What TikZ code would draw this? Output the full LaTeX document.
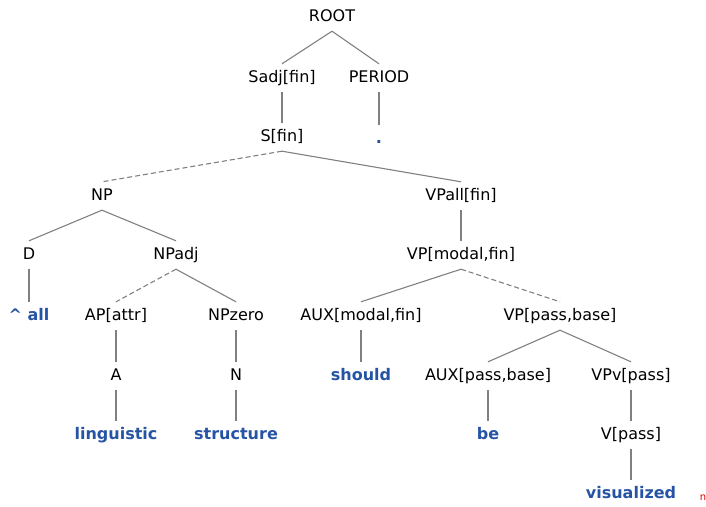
\documentclass[tikz,border=0pt]{standalone}
\usepackage{fontspec}
\setmainfont{DejaVu Sans}
\usetikzlibrary{positioning}
\definecolor{edgegray}{RGB}{128,128,128}
\definecolor{wordblue}{RGB}{38,84,165}

\begin{document}
\begin{tikzpicture}[
    x=1pt, y=-1pt,
    cat/.style={font=\fontsize{16}{18}\selectfont, text height=12pt, text depth=4pt,
                inner xsep=2pt, inner ysep=6pt},
    word/.style={cat, font=\fontsize{16}{18}\selectfont\bfseries, text=wordblue},
    br/.style={draw=edgegray, line width=1.1pt},
    gap/.style={br, dash pattern=on 5pt off 3pt},
]
\useasboundingbox (0,0) rectangle (706,506);

% ---- Top ----
\node[cat] (root) at (332, 17) {ROOT};
\node[cat] (sadj) at (282, 78) {Sadj[fin]};
\node[cat] (period) at (379, 78) {PERIOD};
\node[cat] (sfin) at (282, 137) {S[fin]};
\node[word] (dot) at (379, 139) {.};

% ---- Subject ----
\node[cat] (np) at (102, 196) {NP};
\node[cat] (d) at (29, 255) {D};
\node[cat] (npadj) at (176, 255) {NPadj};
\node[word] (all) at (29, 316) {\textasciicircum{} all};
\node[cat] (ap) at (116, 316) {AP[attr]};
\node[cat] (npzero) at (236, 316) {NPzero};
\node[cat] (a) at (116, 376) {A};
\node[cat] (n) at (236, 376) {N};
\node[word] (ling) at (116, 435) {linguistic};
\node[word] (struct) at (236, 435) {structure};

% ---- Predicate ----
\node[cat] (vpall) at (461, 196) {VPall[fin]};
\node[cat] (vpmodal) at (461, 255) {VP[modal,fin]};
\node[cat] (auxmodal) at (361, 316) {AUX[modal,fin]};
\node[cat] (vppass) at (560, 316) {VP[pass,base]};
\node[word] (should) at (361, 376) {should};
\node[cat] (auxpass) at (488, 376) {AUX[pass,base]};
\node[cat] (vpv) at (631, 376) {VPv[pass]};
\node[word] (be) at (488, 435) {be};
\node[cat] (vpass) at (631, 435) {V[pass]};
\node[word] (vis) at (631, 494) {visualized};

\node[font=\fontsize{10}{11}\selectfont, text=red!85!black, inner sep=0pt] (mark) at (703, 498) {n};

% ---- Branches ----
\draw[br] (root.south) -- (sadj.north);
\draw[br] (root.south) -- (period.north);
\draw[br] (sadj.south) -- (sfin.north);
\draw[br] (period.south) -- (dot.north);
\draw[gap] (sfin.south) -- (np.north);
\draw[br] (sfin.south) -- (vpall.north);
\draw[br] (np.south) -- (d.north);
\draw[br] (np.south) -- (npadj.north);
\draw[br] (d.south) -- (all.north);
\draw[gap] (npadj.south) -- (ap.north);
\draw[br] (npadj.south) -- (npzero.north);
\draw[br] (ap.south) -- (a.north);
\draw[br] (npzero.south) -- (n.north);
\draw[br] (a.south) -- (ling.north);
\draw[br] (n.south) -- (struct.north);
\draw[br] (vpall.south) -- (vpmodal.north);
\draw[br] (vpmodal.south) -- (auxmodal.north);
\draw[gap] (vpmodal.south) -- (vppass.north);
\draw[br] (auxmodal.south) -- (should.north);
\draw[br] (vppass.south) -- (auxpass.north);
\draw[br] (vppass.south) -- (vpv.north);
\draw[br] (auxpass.south) -- (be.north);
\draw[br] (vpv.south) -- (vpass.north);
\draw[br] (vpass.south) -- (vis.north);

\end{tikzpicture}
\end{document}
